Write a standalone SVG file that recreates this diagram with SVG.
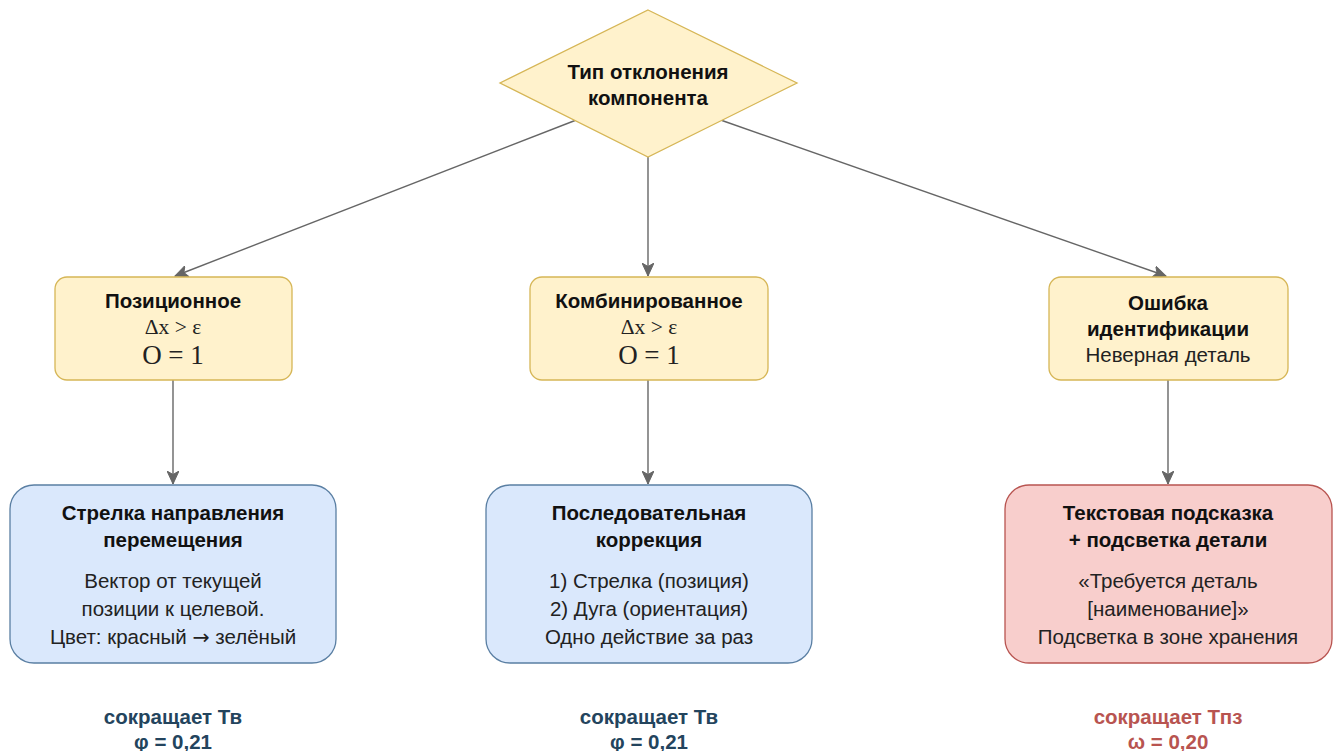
<svg xmlns="http://www.w3.org/2000/svg" width="1340" height="751" viewBox="0 0 1340 751">
  <style>
    .edge { fill: none; stroke: #666666; stroke-width: 1.4; }
    .yellow { fill: #fff2cc; stroke: #d6b656; stroke-width: 1.3; }
    .blue { fill: #dae8fc; stroke: #5a7fa3; stroke-width: 1.3; }
    .red { fill: #f8cecc; stroke: #b85450; stroke-width: 1.3; }
    text { font-family: "Liberation Sans", Arial, sans-serif; text-anchor: middle; }
    .b { font-weight: bold; font-size: 20.5px; fill: #111111; }
    .r { font-size: 20.5px; fill: #222222; }
    .m { font-family: "Liberation Serif", "Times New Roman", serif; font-size: 21.5px; fill: #222222; }
    .big { font-family: "Liberation Serif", "Times New Roman", serif; font-size: 27px; fill: #222222; }
    .lblue { font-weight: bold; font-size: 20.5px; fill: #23445d; }
    .lred { font-weight: bold; font-size: 20.5px; fill: #b85450; }
    .arw { font-family: "DejaVu Sans", sans-serif; }
  </style>
  <defs>
    <marker id="arrow" markerUnits="userSpaceOnUse" markerWidth="14" markerHeight="12" viewBox="0 0 14 12" refX="13" refY="6" orient="auto">
      <path d="M0,0 L13,6 L0,12 L3.5,6 Z" fill="#666666" stroke="#666666" stroke-width="1"/>
    </marker>
  </defs>
  <rect width="1340" height="751" fill="#ffffff"/>

  <g id="connectors">
    <line class="edge" x1="575" y1="120.5" x2="175" y2="276" marker-end="url(#arrow)"/>
    <line class="edge" x1="648" y1="157" x2="648" y2="276" marker-end="url(#arrow)"/>
    <line class="edge" x1="722" y1="120.5" x2="1166" y2="276" marker-end="url(#arrow)"/>
    <line class="edge" x1="173" y1="380" x2="173" y2="484" marker-end="url(#arrow)"/>
    <line class="edge" x1="648" y1="380" x2="648" y2="484" marker-end="url(#arrow)"/>
    <line class="edge" x1="1168" y1="380" x2="1168" y2="484" marker-end="url(#arrow)"/>
  </g>

  <g id="decision">
    <polygon class="yellow" points="648,10 797,83 648,157 500,83"/>
    <text class="b" x="648" y="79">Тип отклонения</text>
    <text class="b" x="648" y="105">компонента</text>
  </g>

  <g id="positional">
    <rect class="yellow" x="55" y="277" width="237" height="103" rx="12"/>
    <text class="b" x="173" y="308">Позиционное</text>
    <text class="m" x="173" y="334">Δx &gt; ε</text>
    <text class="big" x="173" y="364">O = 1</text>
  </g>

  <g id="combined">
    <rect class="yellow" x="530" y="277" width="238" height="103" rx="12"/>
    <text class="b" x="649" y="308">Комбинированное</text>
    <text class="m" x="649" y="334">Δx &gt; ε</text>
    <text class="big" x="649" y="364">O = 1</text>
  </g>

  <g id="identification">
    <rect class="yellow" x="1049" y="277" width="239" height="103" rx="12"/>
    <text class="b" x="1168" y="310">Ошибка</text>
    <text class="b" x="1168" y="336">идентификации</text>
    <text class="r" x="1168" y="362">Неверная деталь</text>
  </g>

  <g id="direction-arrow">
    <rect class="blue" x="10" y="485" width="326" height="178" rx="24"/>
    <text class="b" x="173" y="520">Стрелка направления</text>
    <text class="b" x="173" y="547">перемещения</text>
    <text class="r" x="173" y="588">Вектор от текущей</text>
    <text class="r" x="173" y="616">позиции к целевой.</text>
    <text class="r" x="173" y="644">Цвет: красный <tspan class="arw">→</tspan> зелёный</text>
  </g>

  <g id="sequential">
    <rect class="blue" x="486" y="485" width="326" height="178" rx="24"/>
    <text class="b" x="649" y="520">Последовательная</text>
    <text class="b" x="649" y="547">коррекция</text>
    <text class="r" x="649" y="588">1) Стрелка (позиция)</text>
    <text class="r" x="649" y="616">2) Дуга (ориентация)</text>
    <text class="r" x="649" y="644">Одно действие за раз</text>
  </g>

  <g id="text-hint">
    <rect class="red" x="1005" y="485" width="327" height="178" rx="24"/>
    <text class="b" x="1168" y="520">Текстовая подсказка</text>
    <text class="b" x="1168" y="547">+ подсветка детали</text>
    <text class="r" x="1168" y="588">«Требуется деталь</text>
    <text class="r" x="1168" y="616">[наименование]»</text>
    <text class="r" x="1168" y="644">Подсветка в зоне хранения</text>
  </g>

  <g id="effect-1">
    <text class="lblue" x="173" y="724">сокращает Тв</text>
    <text class="lblue" x="173" y="749">φ = 0,21</text>
  </g>
  <g id="effect-2">
    <text class="lblue" x="649" y="724">сокращает Тв</text>
    <text class="lblue" x="649" y="749">φ = 0,21</text>
  </g>
  <g id="effect-3">
    <text class="lred" x="1168" y="724">сокращает Тпз</text>
    <text class="lred" x="1168" y="749">ω = 0,20</text>
  </g>
</svg>
